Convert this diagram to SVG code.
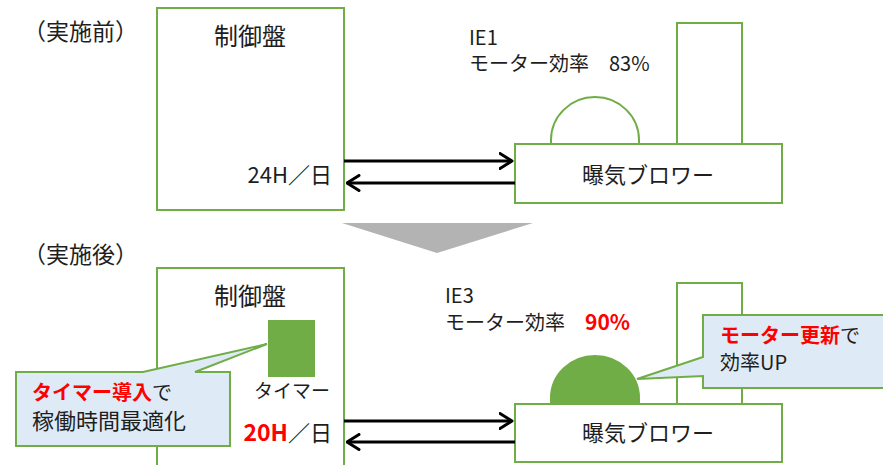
<svg xmlns="http://www.w3.org/2000/svg" width="883" height="465" viewBox="0 0 883 465">
<style>
  text { font-family: "Noto Sans CJK JP", "Noto Sans", sans-serif; fill: #1e1e1e; }
  .box { fill: #fff; stroke: #70AD47; stroke-width: 2; }
  .motor { fill: #70AD47; stroke: #70AD47; stroke-width: 2; }
  .motorOpen { fill: #fff; stroke: #70AD47; stroke-width: 2; }
  .callout { fill: #DEEBF7; stroke: #70AD47; stroke-width: 2; stroke-linejoin: miter; }
  .red { fill: #FF0000; font-weight: bold; }
  .conn { stroke: #000; stroke-width: 3; fill: none; marker-end: url(#arr); }
  .t19 { font-size: 19px; }
  .t20 { font-size: 20px; }
  .t22 { font-size: 22px; }
  .t23 { font-size: 23px; }
  .t24 { font-size: 24px; }
</style>
<defs>
  <marker id="arr" viewBox="0 0 10 12" refX="9" refY="6" markerWidth="5" markerHeight="6" orient="auto" markerUnits="strokeWidth">
    <path d="M1,1 L9,6 L1,11" fill="none" stroke="#000" stroke-width="2" stroke-linecap="round" stroke-linejoin="round"/>
  </marker>
</defs>
<rect width="883" height="465" fill="#fff"/>

<!-- Before section -->
<g id="label-before"><text x="23" y="40" class="t23">（実施前）</text></g>

<g id="panel-before">
  <rect x="157" y="8" width="187" height="202" class="box"/>
  <text x="250" y="45" class="t24" text-anchor="middle">制御盤</text>
  <text x="332" y="183" class="t22" text-anchor="end">24H／日</text>
</g>

<g id="stack-before"><rect x="677" y="23" width="65" height="121" class="box"/></g>
<g id="motor-before"><path d="M551,144 L551,140 A44,43 0 0 1 639,140 L639,144" class="motorOpen"/></g>
<g id="blower-before">
  <rect x="515" y="144" width="267" height="59" class="box"/>
  <text x="648" y="183" class="t22" text-anchor="middle">曝気ブロワー</text>
</g>
<g id="motor-spec-before">
  <text x="469" y="45" class="t20">IE1</text>
  <text x="469" y="71" class="t20">モーター効率　83%</text>
</g>

<g id="transition"><polygon points="342,223 533,223 437,253" fill="#B3B3B3"/></g>

<!-- After section -->
<g id="label-after"><text x="23" y="263" class="t23">（実施後）</text></g>

<g id="panel-after">
  <rect x="157" y="268" width="187" height="210" class="box"/>
  <text x="250" y="305" class="t24" text-anchor="middle">制御盤</text>
  <text x="332" y="441" class="t22" text-anchor="end"><tspan class="red" font-size="23">20H</tspan>／日</text>
</g>

<g id="timer">
  <rect x="268" y="320" width="47" height="57" fill="#70AD47"/>
  <text x="292" y="398" class="t19" text-anchor="middle">タイマー</text>
</g>

<g id="stack-after"><rect x="677" y="283" width="65" height="121" class="box"/></g>
<g id="motor-after"><path d="M551,404 L551,398 A44,42 0 0 1 639,398 L639,404 Z" class="motor"/></g>
<g id="blower-after">
  <rect x="515" y="404" width="267" height="58" class="box"/>
  <text x="648" y="441" class="t22" text-anchor="middle">曝気ブロワー</text>
</g>
<g id="motor-spec-after">
  <text x="445" y="303" class="t20">IE3</text>
  <text x="445" y="330" class="t20">モーター効率　<tspan class="red" font-size="21">90%</tspan></text>
</g>

<g id="callout-timer">
  <path d="M16,372 L143,372 L267,344 L195,372 L230,372 L230,446 L16,446 Z" class="callout"/>
  <text x="32" y="400" class="t20"><tspan class="red">タイマー導入</tspan>で</text>
  <text x="32" y="429" class="t22">稼働時間最適化</text>
</g>

<g id="callout-motor">
  <path d="M703,315 L895,315 L895,388 L703,388 L703,376 L637,379 L703,357 Z" class="callout"/>
  <text x="720" y="343" class="t20"><tspan class="red">モーター更新</tspan>で</text>
  <text x="720" y="370" class="t20">効率UP</text>
</g>

<g id="connectors">
  <line x1="344" y1="161" x2="512" y2="161" class="conn"/>
  <line x1="515" y1="183" x2="347" y2="183" class="conn"/>
  <line x1="344" y1="421" x2="512" y2="421" class="conn"/>
  <line x1="515" y1="442" x2="347" y2="442" class="conn"/>
</g>
</svg>
